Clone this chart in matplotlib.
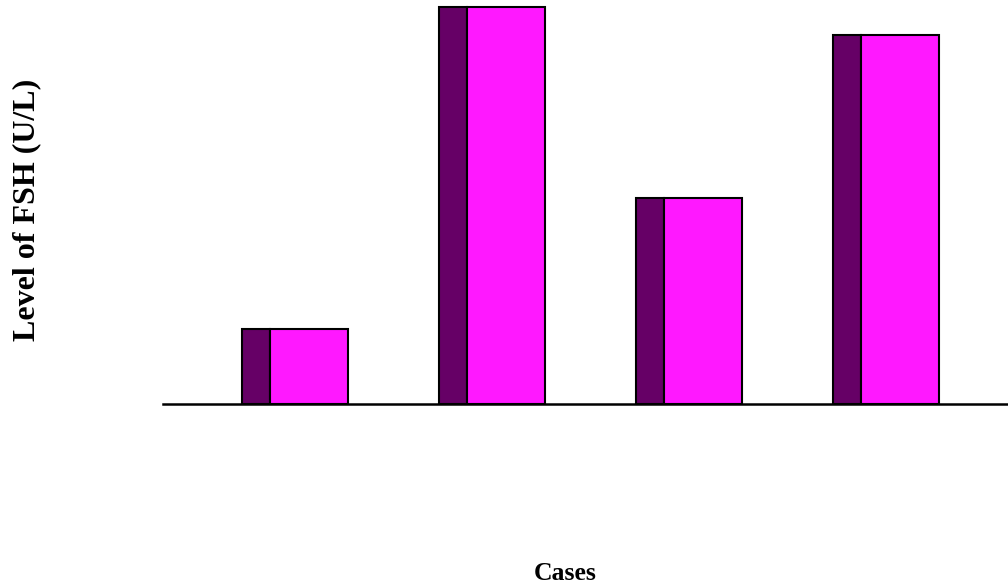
import numpy as np
import matplotlib
matplotlib.use("Agg")
import matplotlib.pyplot as plt

# FSH level per case (front and shaded side share the value)
cases = ["Case 1", "Case 2", "Case 3", "Case 4"]
fsh_level = [7.5, 39.7, 20.6, 36.9]

dark_col = "#660066"
front_col = "#ff18ff"

fig = plt.figure(figsize=(10.08, 5.88), dpi=100)
# axes: left edge at px 163, baseline at px 404 from top, top at px 0
ax = fig.add_axes([163 / 1008, 1 - 404 / 588, 1 - 163 / 1008, 404 / 588])

x = np.arange(len(cases))
ax.bar(x - 0.269, fsh_level, width=0.142, align="edge",
       color=dark_col, edgecolor="black", linewidth=1.5)
ax.bar(x - 0.127, fsh_level, width=0.396, align="edge",
       color=front_col, edgecolor="black", linewidth=1.5)

ax.set_xlim(-0.67, 3.62)
ax.set_ylim(0, 40.4)
for s in ["top", "right", "left"]:
    ax.spines[s].set_visible(False)
ax.spines["bottom"].set_linewidth(1.8)
ax.set_xticks([])
ax.set_yticks([])
ax.patch.set_alpha(0)

fig.text(27 / 1008, 1 - 210 / 588, "Level of FSH (U/L)", rotation=90,
         ha="center", va="center", fontsize=23, fontweight="bold",
         family="Liberation Serif")
fig.text(565 / 1008, 1 - 574 / 588, "Cases", ha="center", va="center",
         fontsize=18.5, fontweight="bold", family="Liberation Serif")

fig.savefig("out.png", dpi=100)
